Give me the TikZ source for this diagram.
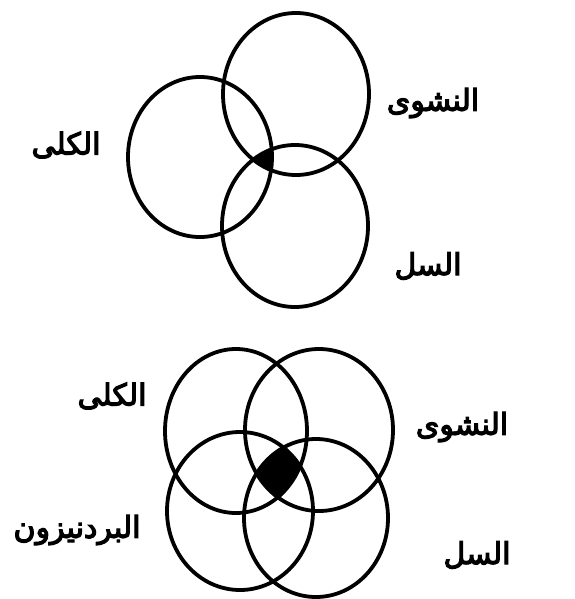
\documentclass[tikz,border=0pt]{standalone}
\usepackage{fontspec}
\usepackage{tikz}
\newfontfamily\arabicfont[Script=Arabic,FakeBold=4]{DejaVu Sans}
\TeXXeTstate=1
\tikzset{
  ring/.style={line width=3.8pt},
  lbl/.style={font=\arabicfont\fontsize{30}{34}\selectfont}
}
\newcommand{\ar}[1]{\beginR #1\endR}

\begin{document}
\begin{tikzpicture}[x=1pt, y=-1pt]
        \useasboundingbox (0,0) rectangle (574,599);
        \coordinate (kA) at (200,157);
        \coordinate (nA) at (296,94);
        \coordinate (sA) at (295,226);
        \coordinate (kB) at (236,431);
        \coordinate (nB) at (319,430);
        \coordinate (pB) at (240,511);
        \coordinate (sB) at (316,518);
        \begin{scope}
            \clip (kA) ellipse [x radius=72pt, y radius=80pt];
            \clip (nA) ellipse [x radius=73pt, y radius=81pt];
            \fill (sA) ellipse [x radius=73pt, y radius=81pt];
        \end{scope}
        \begin{scope}
            \clip (kB) ellipse [x radius=71pt, y radius=82pt];
            \clip (nB) ellipse [x radius=74pt, y radius=81pt];
            \clip (pB) ellipse [x radius=73pt, y radius=79pt];
            \fill (sB) ellipse [x radius=72pt, y radius=79pt];
        \end{scope}
        \draw[ring] (kA) ellipse [x radius=72pt, y radius=80pt];
        \draw[ring] (nA) ellipse [x radius=73pt, y radius=81pt];
        \draw[ring] (sA) ellipse [x radius=73pt, y radius=81pt];
        \draw[ring] (kB) ellipse [x radius=71pt, y radius=82pt];
        \draw[ring] (nB) ellipse [x radius=74pt, y radius=81pt];
        \draw[ring] (pB) ellipse [x radius=73pt, y radius=79pt];
        \draw[ring] (sB) ellipse [x radius=72pt, y radius=79pt];
        \node[lbl] (kidneyA) at (66,145) {\ar{الكلى}};
        \node[lbl] (starchA) at (433,103) {\ar{النشوى}};
        \node[lbl] (tbA) at (428,266) {\ar{السل}};
        \node[lbl] (kidneyB) at (112,396) {\ar{الكلى}};
        \node[lbl] (starchB) at (462,427) {\ar{النشوى}};
        \node[lbl] (prednB) at (77,530) {\ar{البردنيزون}};
        \node[lbl] (tbB) at (477,555) {\ar{السل}};
    \end{tikzpicture}
\end{document}
